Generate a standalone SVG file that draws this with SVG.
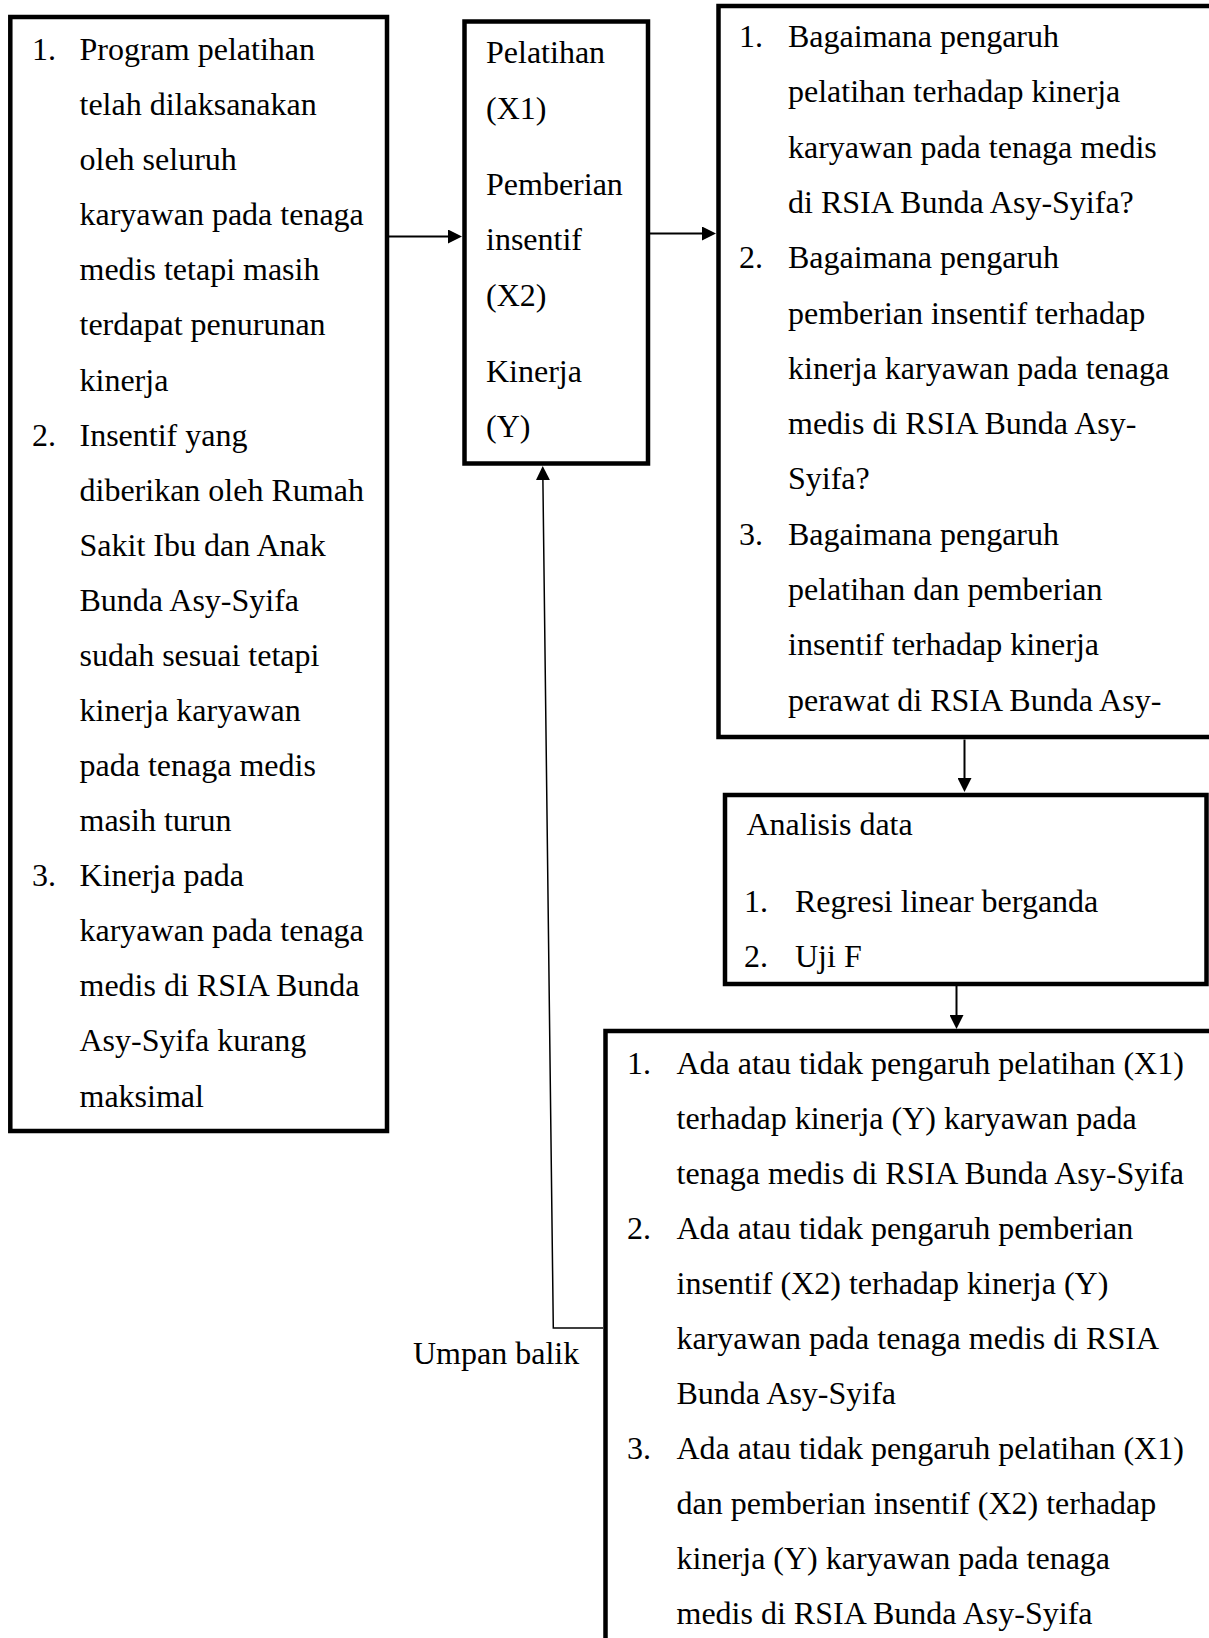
<svg xmlns="http://www.w3.org/2000/svg" width="1209" height="1638" viewBox="0 0 1209 1638">
<style>
.t{font-family:"Liberation Serif","Times New Roman",serif;font-size:32px;fill:#000}
.box{fill:#fff;stroke:#000;stroke-width:4.5}
.conn{fill:none;stroke:#000;stroke-width:2}
.fb{fill:none;stroke:#000;stroke-width:1.5}
</style>
<defs>
<marker id="ah" markerUnits="userSpaceOnUse" markerWidth="14" markerHeight="14" viewBox="0 0 14 14" refX="8" refY="7" orient="auto">
<path d="M0,0 L14,7 L0,14 z" fill="#000"/>
</marker>
</defs>
<rect width="1209" height="1638" fill="#fff"/>

<g id="node-masalah">
<rect class="box" x="10.3" y="17" width="376.7" height="1114"/>
<text class="t" x="32" y="60">1.</text>
<text class="t" x="79.5" y="60">Program pelatihan</text>
<text class="t" x="79.5" y="115.1">telah dilaksanakan</text>
<text class="t" x="79.5" y="170.2">oleh seluruh</text>
<text class="t" x="79.5" y="225.2">karyawan pada tenaga</text>
<text class="t" x="79.5" y="280.3">medis tetapi masih</text>
<text class="t" x="79.5" y="335.4">terdapat penurunan</text>
<text class="t" x="79.5" y="390.5">kinerja</text>
<text class="t" x="32" y="445.6">2.</text>
<text class="t" x="79.5" y="445.6">Insentif yang</text>
<text class="t" x="79.5" y="500.6">diberikan oleh Rumah</text>
<text class="t" x="79.5" y="555.7">Sakit Ibu dan Anak</text>
<text class="t" x="79.5" y="610.8">Bunda Asy-Syifa</text>
<text class="t" x="79.5" y="665.9">sudah sesuai tetapi</text>
<text class="t" x="79.5" y="721">kinerja karyawan</text>
<text class="t" x="79.5" y="776">pada tenaga medis</text>
<text class="t" x="79.5" y="831.1">masih turun</text>
<text class="t" x="32" y="886.2">3.</text>
<text class="t" x="79.5" y="886.2">Kinerja pada</text>
<text class="t" x="79.5" y="941.3">karyawan pada tenaga</text>
<text class="t" x="79.5" y="996.4">medis di RSIA Bunda</text>
<text class="t" x="79.5" y="1051.4">Asy-Syifa kurang</text>
<text class="t" x="79.5" y="1106.5">maksimal</text>
</g>

<g id="node-variabel">
<rect class="box" x="464.5" y="21.5" width="183.5" height="442"/>
<text class="t" x="486" y="63">Pelatihan</text>
<text class="t" x="486" y="118.5">(X1)</text>
<text class="t" x="486" y="194.5">Pemberian</text>
<text class="t" x="486" y="250">insentif</text>
<text class="t" x="486" y="305.5">(X2)</text>
<text class="t" x="486" y="381.5">Kinerja</text>
<text class="t" x="486" y="437">(Y)</text>
</g>

<g id="node-rumusan">
<rect class="box" x="718.5" y="6" width="686" height="731"/>
<text class="t" x="739" y="47">1.</text>
<text class="t" x="788" y="47">Bagaimana pengaruh</text>
<text class="t" x="788" y="102.3">pelatihan terhadap kinerja</text>
<text class="t" x="788" y="157.6">karyawan pada tenaga medis</text>
<text class="t" x="788" y="212.9">di RSIA Bunda Asy-Syifa?</text>
<text class="t" x="739" y="268.2">2.</text>
<text class="t" x="788" y="268.2">Bagaimana pengaruh</text>
<text class="t" x="788" y="323.5">pemberian insentif terhadap</text>
<text class="t" x="788" y="378.8">kinerja karyawan pada tenaga</text>
<text class="t" x="788" y="434.1">medis di RSIA Bunda Asy-</text>
<text class="t" x="788" y="489.4">Syifa?</text>
<text class="t" x="739" y="544.7">3.</text>
<text class="t" x="788" y="544.7">Bagaimana pengaruh</text>
<text class="t" x="788" y="600">pelatihan dan pemberian</text>
<text class="t" x="788" y="655.3">insentif terhadap kinerja</text>
<text class="t" x="788" y="710.6">perawat di RSIA Bunda Asy-</text>
</g>

<g id="node-analisis">
<rect class="box" x="725" y="795" width="481.5" height="189"/>
<text class="t" x="746.5" y="835">Analisis data</text>
<text class="t" x="744" y="911.7">1.</text>
<text class="t" x="795" y="911.7">Regresi linear berganda</text>
<text class="t" x="744" y="966.7">2.</text>
<text class="t" x="795" y="966.7">Uji F</text>
</g>

<g id="node-hasil">
<rect class="box" x="605.5" y="1031" width="720" height="720"/>
<text class="t" x="627" y="1073.5">1.</text>
<text class="t" x="676.5" y="1073.5">Ada atau tidak pengaruh pelatihan (X1)</text>
<text class="t" x="676.5" y="1128.5">terhadap kinerja (Y) karyawan pada</text>
<text class="t" x="676.5" y="1183.5">tenaga medis di RSIA Bunda Asy-Syifa</text>
<text class="t" x="627" y="1238.5">2.</text>
<text class="t" x="676.5" y="1238.5">Ada atau tidak pengaruh pemberian</text>
<text class="t" x="676.5" y="1293.5">insentif (X2) terhadap kinerja (Y)</text>
<text class="t" x="676.5" y="1348.5">karyawan pada tenaga medis di RSIA</text>
<text class="t" x="676.5" y="1403.5">Bunda Asy-Syifa</text>
<text class="t" x="627" y="1458.5">3.</text>
<text class="t" x="676.5" y="1458.5">Ada atau tidak pengaruh pelatihan (X1)</text>
<text class="t" x="676.5" y="1513.5">dan pemberian insentif (X2) terhadap</text>
<text class="t" x="676.5" y="1568.5">kinerja (Y) karyawan pada tenaga</text>
<text class="t" x="676.5" y="1623.5">medis di RSIA Bunda Asy-Syifa</text>
</g>

<g id="connectors">
<line class="conn" x1="389" y1="236.5" x2="456" y2="236.5" marker-end="url(#ah)"/>
<line class="conn" x1="650" y1="233.5" x2="710" y2="233.5" marker-end="url(#ah)"/>
<line class="conn" x1="964.5" y1="739.5" x2="964.5" y2="786" marker-end="url(#ah)"/>
<line class="conn" x1="956.5" y1="986" x2="956.5" y2="1023" marker-end="url(#ah)"/>
<polyline class="fb" points="603,1328 553.3,1328 542.8,472" marker-end="url(#ah)"/>
<text class="t" x="413" y="1364">Umpan balik</text>
</g>
</svg>
